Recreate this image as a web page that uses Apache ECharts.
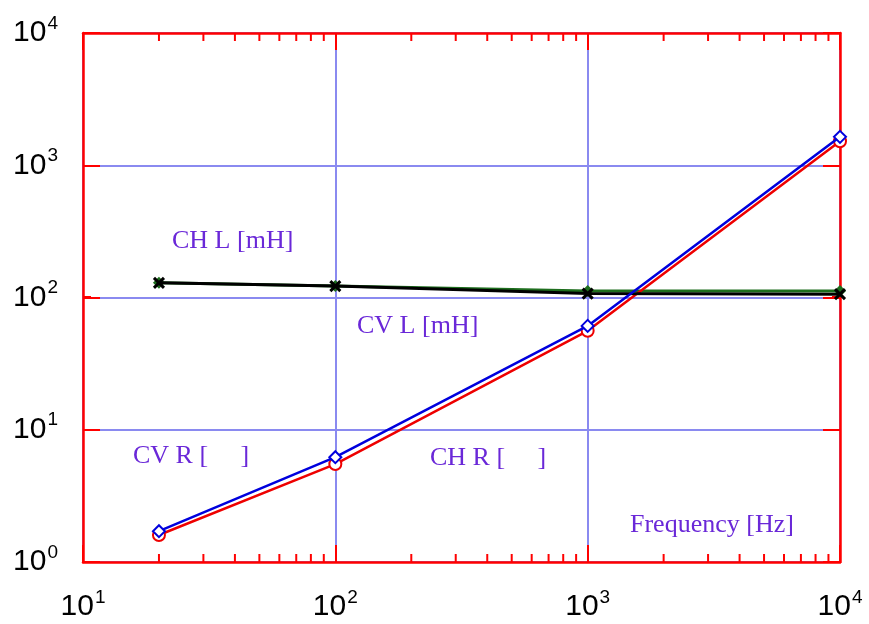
<!DOCTYPE html>
<html>
<head>
<meta charset="utf-8">
<script src="https://cdn.jsdelivr.net/npm/echarts@6/dist/echarts.min.js"></script>
<style>html,body{margin:0;padding:0;background:#fff;}#c{width:869px;height:624px;}</style>
</head>
<body>
<div id="c"></div>
<script>
// Data (frequency in Hz)
const freq = [20, 100, 1000, 10000];
const chL = [129, 122, 107, 106];   // black, x markers
const cvL = [129, 122, 112, 112];   // green
const cvR = [1.71, 6.2, 61, 1640];  // blue, diamonds
const chR = [1.6, 5.5, 56, 1520];   // red, circles
const xMinorTicks = [20,30,40,50,60,70,80,90,200,300,400,500,600,700,800,900,2000,3000,4000,5000,6000,7000,8000,9000];
const yMinorTicks = [2,3,4,5,6,7,8,9,20,30,40,50,60,70,80,90,200,300,400,500,600,700,800,900,2000,3000,4000,5000,6000,7000,8000,9000];
const annotations = [
  {text: 'CH L [mH]', x: 172, y: 243},
  {text: 'CV L [mH]', x: 357, y: 328},
  {text: 'CV R [\u2003 ]', x: 133, y: 458},
  {text: 'CH R [\u2003 ]', x: 430, y: 460},
  {text: 'Frequency [Hz]', x: 630, y: 527}
];

const pairs = arr => freq.map((f, i) => [f, arr[i]]);
const RED = '#ff0000';
const GRIDC = '#8a8af0';

const labelFmt = v => '{b|10}{e|' + Math.round(Math.log10(v)) + '}';
const rich = {
  b: {fontFamily: 'Liberation Sans', fontSize: 30, color: '#000'},
  e: {fontFamily: 'Liberation Sans', fontSize: 19, color: '#000', padding: [0, 0, 19, 1]}
};

function axisCommon(show) {
  return {
    axisLine: {show: true, onZero: false, lineStyle: {color: RED, width: 2.5}},
    axisTick: {show: true, inside: true, length: 17, lineStyle: {color: RED, width: 2}},
    minorTick: {show: false},
    splitLine: {show: show, lineStyle: {color: GRIDC, width: 2}}
  };
}

const chart = echarts.init(document.getElementById('c'), null, {renderer: 'canvas'});

function minorRender(isX) {
  return function (params, api) {
    const v = api.value(0);
    const cs = params.coordSys;
    const L = 8;
    const sty = {stroke: RED, lineWidth: 2};
    if (isX) {
      const px = api.coord([v, 10])[0];
      const yb = cs.y + cs.height, yt = cs.y;
      return {type: 'group', children: [
        {type: 'line', shape: {x1: px, y1: yb, x2: px, y2: yb - L}, style: sty},
        {type: 'line', shape: {x1: px, y1: yt, x2: px, y2: yt + L}, style: sty}
      ]};
    } else {
      const py = api.coord([100, v])[1];
      const xl = cs.x, xr = cs.x + cs.width;
      return {type: 'group', children: [
        {type: 'line', shape: {x1: xl, y1: py, x2: xl + L, y2: py}, style: sty},
        {type: 'line', shape: {x1: xr, y1: py, x2: xr - L, y2: py}, style: sty}
      ]};
    }
  };
}

const option = {
  backgroundColor: '#fff',
  animation: false,
  grid: {left: 83, right: 29, top: 33, bottom: 62},
  xAxis: [
    Object.assign({type: 'log', logBase: 10, min: 10, max: 10000, position: 'bottom',
      axisLabel: {formatter: labelFmt, rich: rich, margin: 26}}, axisCommon(true)),
    Object.assign({type: 'log', logBase: 10, min: 10, max: 10000, position: 'top',
      axisLabel: {show: false}}, axisCommon(false))
  ],
  yAxis: [
    Object.assign({type: 'log', logBase: 10, min: 1, max: 10000, position: 'left',
      axisLabel: {formatter: labelFmt, rich: rich, margin: 25}}, axisCommon(true)),
    Object.assign({type: 'log', logBase: 10, min: 1, max: 10000, position: 'right',
      axisLabel: {show: false}}, axisCommon(false))
  ],
  graphic: annotations.map(a => ({
    type: 'text', left: a.x, top: a.y - 15, z: 100,
    style: {text: a.text, fill: '#6a28d8', font: '26px "Liberation Serif"', verticalAlign: 'top'}
  })),
  series: [
    {type: 'custom', renderItem: minorRender(true), data: xMinorTicks.map(v => [v]), encode: {x: 0}, silent: true, z: 5},
    {type: 'custom', renderItem: minorRender(false), data: yMinorTicks.map(v => [100, v]), encode: {x: 0, y: 1}, silent: true, z: 5},
    {name: 'CV L', type: 'line', data: pairs(cvL), symbol: 'diamond', symbolSize: 12,
      lineStyle: {color: '#1e6e1e', width: 3}, itemStyle: {color: '#1e6e1e'}, z: 10},
    {name: 'CH L', type: 'line', data: pairs(chL), symbol: 'path://M0,0L10,10M10,0L0,10', symbolSize: 10,
      lineStyle: {color: '#000', width: 3}, itemStyle: {color: 'none', borderColor: '#000', borderWidth: 3}, z: 11},
    {name: 'CH R', type: 'line', data: pairs(chR), symbol: 'emptyCircle', symbolSize: 12,
      lineStyle: {color: '#ee0000', width: 2.5}, itemStyle: {color: '#ee0000', borderWidth: 2.5}, z: 10},
    {name: 'CV R', type: 'line', data: pairs(cvR), symbol: 'emptyDiamond', symbolSize: 12,
      lineStyle: {color: '#0000dd', width: 2.5}, itemStyle: {color: '#0000dd', borderWidth: 2.5}, z: 11}
  ]
};
chart.setOption(option);
</script>
</body>
</html>
